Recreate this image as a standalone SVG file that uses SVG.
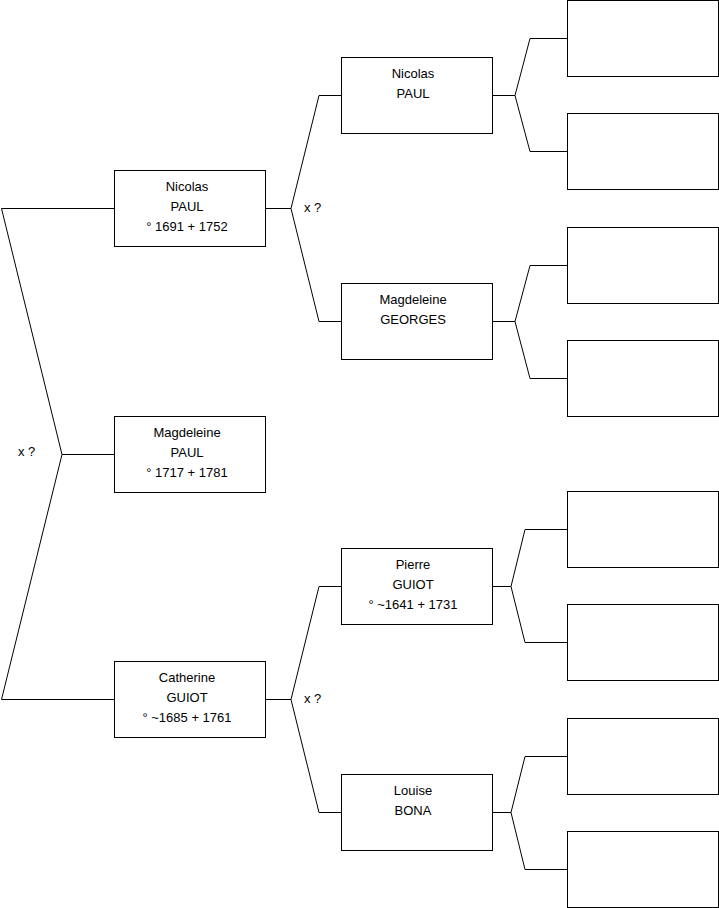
<svg xmlns="http://www.w3.org/2000/svg" width="719" height="908" viewBox="0 0 719 908">
<style>
.box{fill:#fff;stroke:#000;stroke-width:1}
.ln{fill:none;stroke:#000;stroke-width:1}
text{font-family:"Liberation Sans",Arial,sans-serif;font-size:13px;fill:#000;text-anchor:middle}
.lbl{text-anchor:start}
</style>
<rect width="719" height="908" fill="#fff"/>
<g id="connectors">
<path class="ln" d="M114,208.5H1.5L62,454.5L1.5,699.5H114M62,454.5H114"/>
<path class="ln" d="M265,208.5H291L319,95.5H341M291,208.5L319,321.5H341"/>
<path class="ln" d="M265,699.5H291L319,586.5H341M291,699.5L319,812.5H341"/>
<path class="ln" d="M492,95.5H515L530,38.5H567M515,95.5L530,151.5H567"/>
<path class="ln" d="M492,321.5H515L530,265.5H567M515,321.5L530,378.5H567"/>
<path class="ln" d="M492,586.5H511L525,529.5H567M511,586.5L525,642.5H567"/>
<path class="ln" d="M492,812.5H511L525,756.5H567M511,812.5L525,869.5H567"/>
<text class="lbl" x="18" y="456">x ?</text>
<text class="lbl" x="304" y="212">x ?</text>
<text class="lbl" x="304" y="703">x ?</text>
</g>
<g id="n1"><rect class="box" x="114.5" y="170.5" width="151" height="76"/><text x="187" y="191">Nicolas</text><text x="187" y="211">PAUL</text><text x="187" y="231">° 1691 + 1752</text></g>
<g id="n2"><rect class="box" x="114.5" y="416.5" width="151" height="76"/><text x="187" y="437">Magdeleine</text><text x="187" y="457">PAUL</text><text x="187" y="477">° 1717 + 1781</text></g>
<g id="n3"><rect class="box" x="114.5" y="661.5" width="151" height="76"/><text x="187" y="682">Catherine</text><text x="187" y="702">GUIOT</text><text x="187" y="722">° ~1685 + 1761</text></g>
<g id="n4"><rect class="box" x="341.5" y="57.5" width="151" height="76"/><text x="413" y="78">Nicolas</text><text x="413" y="98">PAUL</text></g>
<g id="n5"><rect class="box" x="341.5" y="283.5" width="151" height="76"/><text x="413" y="304">Magdeleine</text><text x="413" y="324">GEORGES</text></g>
<g id="n6"><rect class="box" x="341.5" y="548.5" width="151" height="76"/><text x="413" y="569">Pierre</text><text x="413" y="589">GUIOT</text><text x="413" y="609">° ~1641 + 1731</text></g>
<g id="n7"><rect class="box" x="341.5" y="774.5" width="151" height="76"/><text x="413" y="795">Louise</text><text x="413" y="815">BONA</text></g>
<g id="n8"><rect class="box" x="567.5" y="0.5" width="151" height="76"/></g>
<g id="n9"><rect class="box" x="567.5" y="113.5" width="151" height="76"/></g>
<g id="n10"><rect class="box" x="567.5" y="227.5" width="151" height="76"/></g>
<g id="n11"><rect class="box" x="567.5" y="340.5" width="151" height="76"/></g>
<g id="n12"><rect class="box" x="567.5" y="491.5" width="151" height="76"/></g>
<g id="n13"><rect class="box" x="567.5" y="604.5" width="151" height="76"/></g>
<g id="n14"><rect class="box" x="567.5" y="718.5" width="151" height="76"/></g>
<g id="n15"><rect class="box" x="567.5" y="831.5" width="151" height="76"/></g>
</svg>
